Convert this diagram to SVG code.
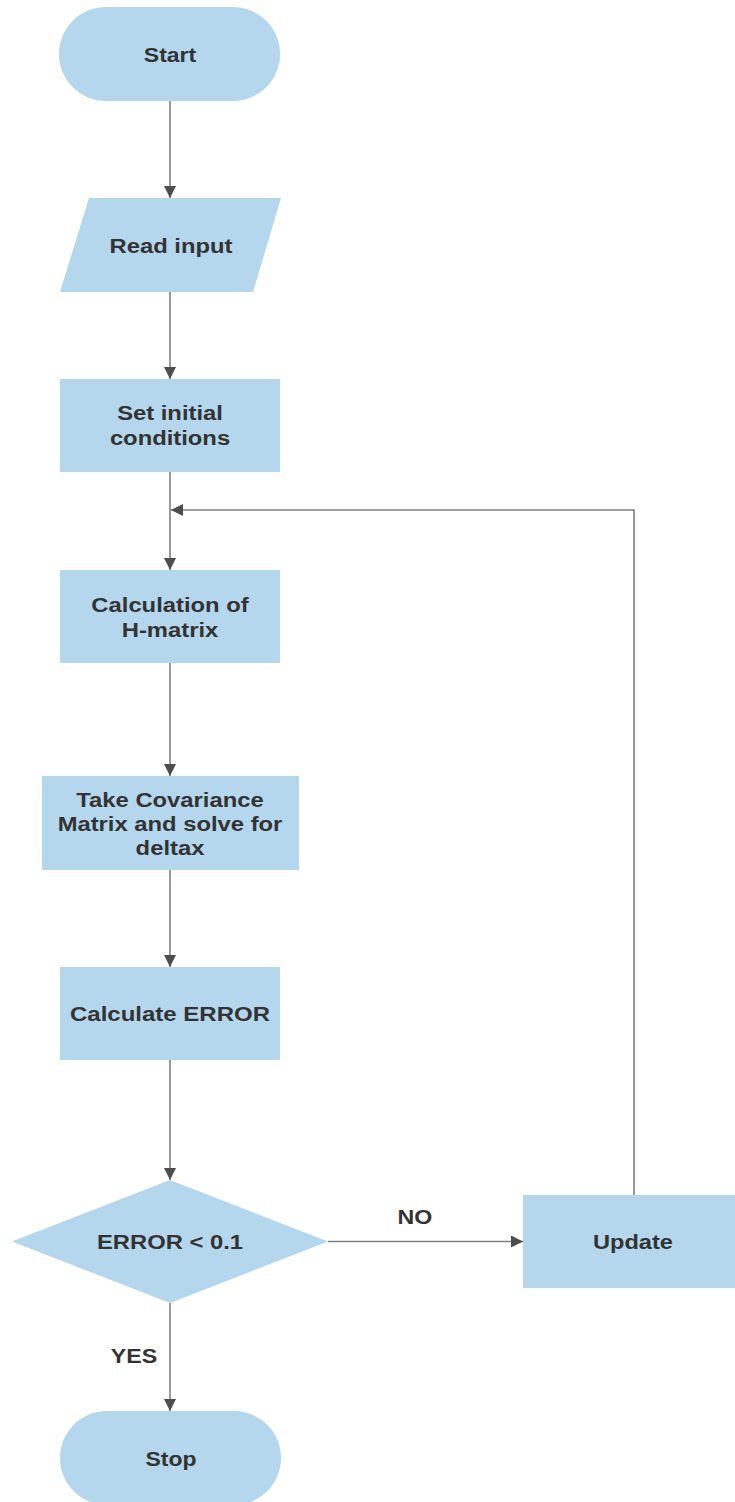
<svg xmlns="http://www.w3.org/2000/svg" width="735" height="1502" viewBox="0 0 735 1502">
  <style>
    .shape { fill: #b4d7ee; stroke: none; }
    .label { font-family: "Liberation Sans", Arial, sans-serif; font-size: 20px; font-weight: bold; fill: #333333; text-anchor: middle; }
    .edge { fill: none; stroke: #808080; stroke-width: 1.6; }
  </style>
  <defs>
    <marker id="arrow" markerUnits="userSpaceOnUse" markerWidth="12" markerHeight="12" refX="12" refY="6" orient="auto">
      <path d="M0,0 L12,6 L0,12 Z" fill="#4d4d4d"/>
    </marker>
  </defs>

  <rect width="735" height="1502" fill="#ffffff"/>

  <!-- connectors -->
  <g id="connectors">
    <path class="edge" d="M170,101 V198" marker-end="url(#arrow)"/>
    <path class="edge" d="M170,292 V379" marker-end="url(#arrow)"/>
    <path class="edge" d="M170,472 V570" marker-end="url(#arrow)"/>
    <path class="edge" d="M634,1195 V510 H171" marker-end="url(#arrow)"/>
    <path class="edge" d="M170,663 V776" marker-end="url(#arrow)"/>
    <path class="edge" d="M170,870 V967" marker-end="url(#arrow)"/>
    <path class="edge" d="M170,1060 V1180" marker-end="url(#arrow)"/>
    <path class="edge" d="M328,1241.5 H523" marker-end="url(#arrow)"/>
    <path class="edge" d="M170,1303 V1411" marker-end="url(#arrow)"/>
    <g transform="translate(415 0) scale(1.16 1)"><text class="label" x="0" y="1224">NO</text></g>
    <g transform="translate(134 0) scale(1.16 1)"><text class="label" x="0" y="1363">YES</text></g>
  </g>

  <!-- nodes -->
  <g id="start">
    <rect class="shape" x="59" y="7" width="221" height="94" rx="47" ry="47"/>
    <g transform="translate(170 0) scale(1.15 1)"><text class="label" x="0" y="62">Start</text></g>
  </g>

  <g id="read-input">
    <polygon class="shape" points="89,198 281,198 253,292 60,292"/>
    <g transform="translate(171 0) scale(1.19 1)"><text class="label" x="0" y="253">Read input</text></g>
  </g>

  <g id="set-initial">
    <rect class="shape" x="60" y="379" width="220" height="93"/>
    <g transform="translate(170 0) scale(1.19 1)">
      <text class="label" x="0" y="420">Set initial</text>
      <text class="label" x="0" y="445">conditions</text>
    </g>
  </g>

  <g id="h-matrix">
    <rect class="shape" x="60" y="570" width="220" height="93"/>
    <g transform="translate(170 0) scale(1.19 1)">
      <text class="label" x="0" y="612">Calculation of</text>
      <text class="label" x="0" y="637">H-matrix</text>
    </g>
  </g>

  <g id="covariance">
    <rect class="shape" x="42" y="776" width="257" height="94"/>
    <g transform="translate(170 0) scale(1.19 1)">
      <text class="label" x="0" y="807">Take Covariance</text>
      <text class="label" x="0" y="831">Matrix and solve for</text>
      <text class="label" x="0" y="855">deltax</text>
    </g>
  </g>

  <g id="calc-error">
    <rect class="shape" x="60" y="967" width="220" height="93"/>
    <g transform="translate(170 0) scale(1.2 1)"><text class="label" x="0" y="1021">Calculate ERROR</text></g>
  </g>

  <g id="decision">
    <polygon class="shape" points="170,1180 328,1241.5 170,1303 12,1241.5"/>
    <g transform="translate(170 0) scale(1.19 1)"><text class="label" x="0" y="1249">ERROR &lt; 0.1</text></g>
  </g>

  <g id="update">
    <rect class="shape" x="523" y="1195" width="212" height="93"/>
    <g transform="translate(633 0) scale(1.18 1)"><text class="label" x="0" y="1249">Update</text></g>
  </g>

  <g id="stop">
    <rect class="shape" x="60" y="1411" width="221" height="94" rx="47" ry="47"/>
    <g transform="translate(171 0) scale(1.15 1)"><text class="label" x="0" y="1466">Stop</text></g>
  </g>
</svg>
